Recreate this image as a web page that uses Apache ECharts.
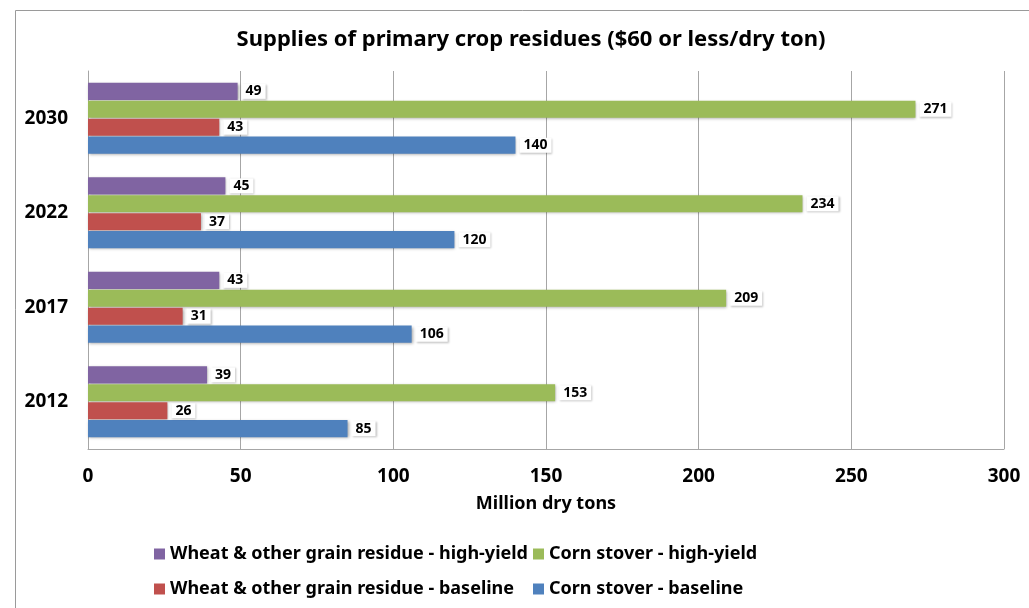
<!DOCTYPE html>
<html>
<head>
<meta charset="utf-8">
<script src="https://cdn.jsdelivr.net/npm/echarts@6/dist/echarts.min.js"></script>
<style>
  html, body { margin: 0; padding: 0; background: #fff; }
  #chart { width: 1029px; height: 608px; }
</style>
</head>
<body>
<div id="chart"></div>
<script>
// Years, listed bottom to top on the category axis
const years = ['2012', '2017', '2022', '2030'];

// Million dry tons at $60 or less per dry ton
const cornBaseline = [85, 106, 120, 140];
const wheatBaseline = [26, 31, 37, 43];
const cornHighYield = [153, 209, 234, 271];
const wheatHighYield = [39, 43, 45, 49];

const xTicks = [0, 50, 100, 150, 200, 250, 300];

const FONT = '"Noto Sans", "Open Sans", sans-serif';

function barSeries(name, data, color) {
  return {
    name: name,
    type: 'bar',
    data: data,
    barGap: '5%',
    barCategoryGap: '25%',
    itemStyle: {
      color: color,
      shadowColor: 'rgba(0,0,0,0.35)',
      shadowBlur: 3,
      shadowOffsetX: 1,
      shadowOffsetY: 1
    },
    label: {
      show: true,
      position: 'right',
      distance: 4,
      color: '#000',
      fontFamily: FONT,
      fontWeight: 'bold',
      fontSize: 14,
      backgroundColor: '#fff',
      padding: [1, 4, 0, 4],
      shadowColor: 'rgba(0,0,0,0.25)',
      shadowBlur: 2,
      shadowOffsetX: 1,
      shadowOffsetY: 1
    }
  };
}

const chart = echarts.init(document.getElementById('chart'), null, { renderer: 'canvas' });

chart.setOption({
  animation: false,
  backgroundColor: '#fff',
  title: {
    text: 'Supplies of primary crop residues ($60 or less/dry ton)',
    left: 526,
    top: 24,
    textAlign: 'center',
    textStyle: { fontFamily: FONT, fontWeight: 'bold', fontSize: 22, color: '#000' }
  },
  graphic: [{
    type: 'rect',
    shape: { x: 15.5, y: 10.5, width: 1100, height: 700 },
    style: { fill: 'none', stroke: '#9a9a9a', lineWidth: 1 },
    silent: true
  }],
  grid: { left: 88, right: 25, top: 71, bottom: 159, containLabel: false },
  xAxis: {
    type: 'value',
    min: xTicks[0],
    max: xTicks[xTicks.length - 1],
    interval: 50,
    name: 'Million dry tons',
    nameLocation: 'middle',
    nameGap: 46,
    nameTextStyle: { fontFamily: FONT, fontWeight: 'bold', fontSize: 18, color: '#000' },
    axisLine: { show: true, lineStyle: { color: '#a6a6a6', width: 1 } },
    axisTick: { show: false },
    splitLine: { show: true, lineStyle: { color: '#a6a6a6', width: 1 } },
    axisLabel: { margin: 18, fontFamily: FONT, fontWeight: 'bold', fontSize: 19, color: '#000' }
  },
  yAxis: {
    type: 'category',
    data: years,
    axisLine: { show: true, lineStyle: { color: '#a6a6a6', width: 1 } },
    axisTick: { show: false },
    axisLabel: { margin: 20, fontFamily: FONT, fontWeight: 'bold', fontSize: 19, color: '#000' }
  },
  legend: [{
    orient: 'vertical',
    left: 149,
    top: 540,
    itemGap: 17,
    itemWidth: 11,
    itemHeight: 11,
    icon: 'rect',
    data: ['Wheat & other grain residue - high-yield', 'Wheat & other grain residue - baseline'],
    textStyle: { fontFamily: FONT, fontWeight: 'bold', fontSize: 18, color: '#000' }
  }, {
    orient: 'vertical',
    left: 528,
    top: 540,
    itemGap: 17,
    itemWidth: 11,
    itemHeight: 11,
    icon: 'rect',
    data: ['Corn stover - high-yield', 'Corn stover - baseline'],
    textStyle: { fontFamily: FONT, fontWeight: 'bold', fontSize: 18, color: '#000' }
  }],
  // First series sits at the top of each year's group
  series: [
    barSeries('Wheat & other grain residue - high-yield', wheatHighYield, '#8064A2'),
    barSeries('Corn stover - high-yield', cornHighYield, '#9BBB59'),
    barSeries('Wheat & other grain residue - baseline', wheatBaseline, '#C0504D'),
    barSeries('Corn stover - baseline', cornBaseline, '#4F81BD')
  ]
});
</script>
</body>
</html>
